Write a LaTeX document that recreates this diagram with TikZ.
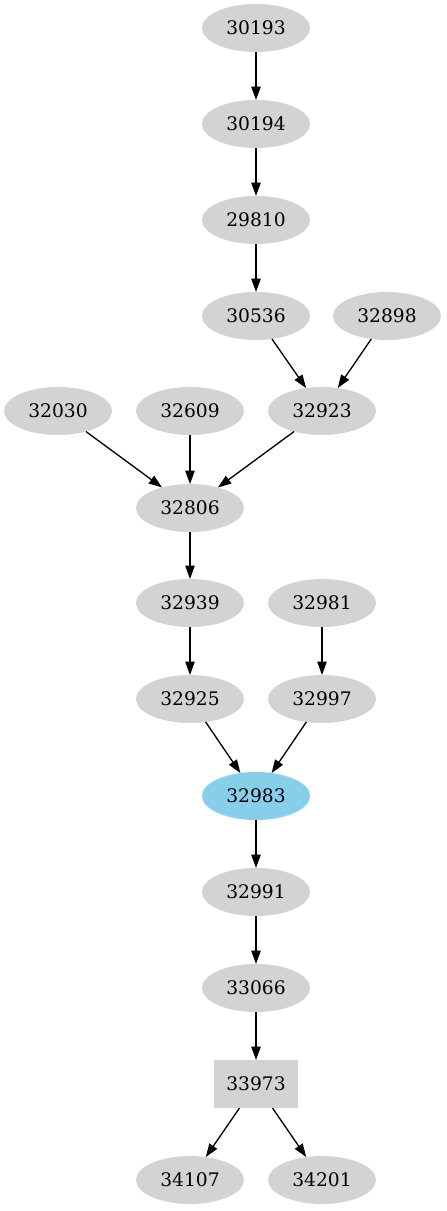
\documentclass[tikz,border=0pt]{standalone}
\usepackage{fontspec}
\setmainfont{DejaVu Serif}
\usepackage{tikz}
\usetikzlibrary{shapes.geometric,arrows.meta,positioning}

\definecolor{lgray}{HTML}{D3D3D3}
\definecolor{skyblue}{HTML}{87CEEB}

\begin{document}
\begin{tikzpicture}[
        nd/.style={ellipse, fill=lgray, minimum width=108pt, minimum height=48pt, inner sep=0pt, outer sep=0pt, font=\fontsize{18.67}{22}\selectfont},
        hl/.style={nd, fill=skyblue},
        bx/.style={rectangle, fill=lgray, minimum width=84pt, minimum height=48pt, inner sep=0pt, outer sep=0pt, font=\fontsize{18.67}{22}\selectfont},
        arr/.style={-{Triangle[length=13.3pt, width=9.3pt]}, line width=1.33pt}
    ]
        \useasboundingbox (0,0) rectangle (447pt,-1211pt);

        % Top chain
        \node[nd] (n30193) at (256pt,-28pt) {30193};
        \node[nd, below=48pt of n30193] (n30194) {30194};
        \node[nd, below=48pt of n30194] (n29810) {29810};
        \node[nd, below=48pt of n29810] (n30536) {30536};
        \node[nd, right=23pt of n30536] (n32898) {32898};

        % Merge row
        \node[nd, below=47pt of n30536, xshift=66pt] (n32923) {32923};
        \node[nd, left=24pt of n32923] (n32609) {32609};
        \node[nd, left=24pt of n32609] (n32030) {32030};
        \node[nd, below=49pt of n32609] (n32806) {32806};

        % Two branches
        \node[nd, below=47pt of n32806] (n32939) {32939};
        \node[nd, right=24pt of n32939] (n32981) {32981};
        \node[nd, below=48pt of n32939] (n32925) {32925};
        \node[nd, right=24pt of n32925] (n32997) {32997};

        % Highlighted node and below
        \node[hl, below=49pt of n32925, xshift=66pt] (n32983) {32983};
        \node[nd, below=48pt of n32983] (n32991) {32991};
        \node[nd, below=48pt of n32991] (n33066) {33066};
        \node[bx, below=48pt of n33066] (n33973) {33973};
        \node[nd, below=48pt of n33973, xshift=-66pt] (n34107) {34107};
        \node[nd, right=24pt of n34107] (n34201) {34201};

        % Edges
        \draw[arr] (n30193) -- (n30194);
        \draw[arr] (n30194) -- (n29810);
        \draw[arr] (n29810) -- (n30536);
        \draw[arr] (n30536) -- (n32923);
        \draw[arr] (n32898) -- (n32923);
        \draw[arr] (n32030) -- (n32806);
        \draw[arr] (n32609) -- (n32806);
        \draw[arr] (n32923) -- (n32806);
        \draw[arr] (n32806) -- (n32939);
        \draw[arr] (n32939) -- (n32925);
        \draw[arr] (n32981) -- (n32997);
        \draw[arr] (n32925) -- (n32983);
        \draw[arr] (n32997) -- (n32983);
        \draw[arr] (n32983) -- (n32991);
        \draw[arr] (n32991) -- (n33066);
        \draw[arr] (n33066) -- (n33973);
        \draw[arr] (n33973) -- (n34107);
        \draw[arr] (n33973) -- (n34201);
    \end{tikzpicture}
\end{document}
